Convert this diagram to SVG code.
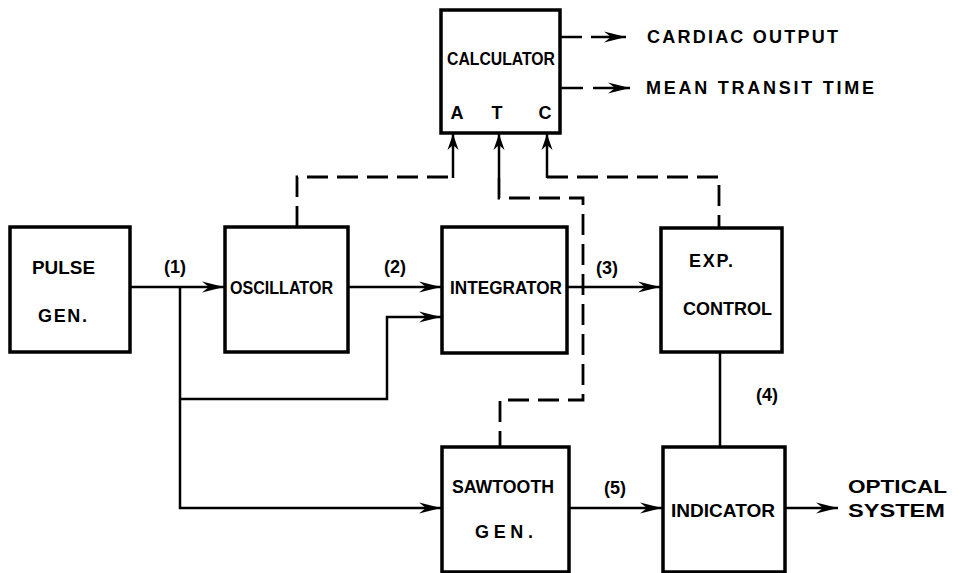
<svg xmlns="http://www.w3.org/2000/svg" width="963" height="573" viewBox="0 0 963 573">
<style>
.box{fill:#fff;stroke:#000;stroke-width:3.5}
.ln{fill:none;stroke:#000;stroke-width:2.5}
.ds{fill:none;stroke:#000;stroke-width:2.8;stroke-dasharray:21 9}
.t{font-family:"Liberation Sans",Arial,sans-serif;font-weight:bold;font-size:18px;fill:#000}
</style>
<defs>
<marker id="ah" markerUnits="userSpaceOnUse" markerWidth="24" markerHeight="14" refX="22" refY="7" orient="auto">
<path d="M0,1.5 L22,7 L0,12.5 L7,7 Z" fill="#000"/>
</marker>
<marker id="au" markerUnits="userSpaceOnUse" markerWidth="18" markerHeight="14" refX="16" refY="7" orient="auto">
<path d="M0,1.5 L16,7 L0,12.5 L5,7 Z" fill="#000"/>
</marker>
</defs>
<rect width="963" height="573" fill="#fff"/>
<g id="connectors">
<path class="ln" d="M130,287 H224" marker-end="url(#ah)"/>
<path class="ln" d="M180,287 V508 H441" marker-end="url(#ah)"/>
<path class="ln" d="M180,399 H387 V317 H441" marker-end="url(#ah)"/>
<path class="ln" d="M348,287 H441" marker-end="url(#ah)"/>
<path class="ln" d="M567,287 H660" marker-end="url(#ah)"/>
<path class="ln" d="M720,352 V447"/>
<path class="ln" d="M569,508 H662" marker-end="url(#ah)"/>
<path class="ln" d="M785,508 H838" marker-end="url(#ah)"/>
<path class="ds" d="M297,227 V177 H453"/>
<path class="ln" d="M453,178 V134" marker-end="url(#au)"/>
<path class="ln" d="M499,178 V134" marker-end="url(#au)"/>
<path class="ds" d="M499,178 V198 H583 V400 H500 V447"/>
<path class="ln" d="M547,178 V134" marker-end="url(#au)"/>
<path class="ds" d="M547,177 H719 V228"/>
<path class="ln" d="M560,37 H582"/>
<path class="ln" d="M591,37 H626" marker-end="url(#ah)"/>
<path class="ln" d="M560,88 H583"/>
<path class="ln" d="M593,88 H630" marker-end="url(#ah)"/>
</g>
<g id="calculator">
<rect class="box" x="441" y="10" width="119" height="123"/>
<text class="t" x="447" y="65" textLength="108" lengthAdjust="spacingAndGlyphs">CALCULATOR</text>
<text class="t" x="457" y="119" text-anchor="middle">A</text>
<text class="t" x="497" y="119" text-anchor="middle">T</text>
<text class="t" x="545" y="119" text-anchor="middle">C</text>
</g>
<g id="outputs">
<text class="t" x="647" y="43" textLength="191" lengthAdjust="spacing">CARDIAC OUTPUT</text>
<text class="t" x="646" y="94" textLength="228" lengthAdjust="spacing">MEAN TRANSIT TIME</text>
</g>
<g id="pulse-gen">
<rect class="box" x="10" y="227" width="120" height="125"/>
<text class="t" x="32" y="274" textLength="63" lengthAdjust="spacingAndGlyphs">PULSE</text>
<text class="t" x="38" y="322" textLength="49" lengthAdjust="spacing">GEN.</text>
</g>
<g id="oscillator">
<rect class="box" x="225" y="227" width="123" height="125"/>
<text class="t" x="230" y="294" textLength="103" lengthAdjust="spacingAndGlyphs">OSCILLATOR</text>
</g>
<g id="integrator">
<rect class="box" x="442" y="227" width="125" height="126"/>
<text class="t" x="450" y="294" textLength="112" lengthAdjust="spacingAndGlyphs">INTEGRATOR</text>
</g>
<g id="exp-control">
<rect class="box" x="661" y="228" width="121" height="124"/>
<text class="t" x="689" y="267" textLength="44" lengthAdjust="spacing">EXP.</text>
<text class="t" x="683" y="315" textLength="89" lengthAdjust="spacingAndGlyphs">CONTROL</text>
</g>
<g id="sawtooth-gen">
<rect class="box" x="442" y="447" width="127" height="125"/>
<text class="t" x="452" y="493" textLength="102" lengthAdjust="spacingAndGlyphs">SAWTOOTH</text>
<text class="t" x="475" y="538" textLength="58" lengthAdjust="spacing">GEN.</text>
</g>
<g id="indicator">
<rect class="box" x="663" y="447" width="122" height="125"/>
<text class="t" x="671" y="517" textLength="104" lengthAdjust="spacingAndGlyphs">INDICATOR</text>
</g>
<g id="labels">
<text class="t" x="175" y="273" text-anchor="middle">(1)</text>
<text class="t" x="395" y="273" text-anchor="middle">(2)</text>
<text class="t" x="607" y="274" text-anchor="middle">(3)</text>
<text class="t" x="767" y="401" text-anchor="middle">(4)</text>
<text class="t" x="615" y="494" text-anchor="middle">(5)</text>
<text class="t" x="848" y="493" textLength="99" lengthAdjust="spacingAndGlyphs">OPTICAL</text>
<text class="t" x="848" y="517" textLength="97" lengthAdjust="spacingAndGlyphs">SYSTEM</text>
</g>
</svg>
